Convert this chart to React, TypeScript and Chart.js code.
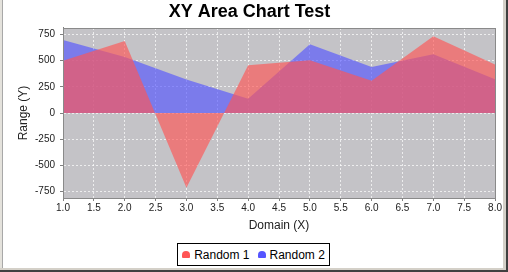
import React, { useEffect, useRef } from "react";
import { Chart, registerables } from "chart.js";

Chart.register(...registerables);

const titleText = "XY Area Chart Test";
const xAxisTitle = "Domain (X)";
const yAxisTitle = "Range (Y)";
const seriesNames = ["Random 1", "Random 2"];
const xValues = [1, 2, 3, 4, 5, 6, 7, 8];
const random1 = [500, 687, -713, 456, 504, 307, 732, 463];
const random2 = [697, 535, 320, 136, 656, 440, 561, 323];
const xTicks = [1, 1.5, 2, 2.5, 3, 3.5, 4, 4.5, 5, 5.5, 6, 6.5, 7, 7.5, 8];
const yTicks = [-750, -500, -250, 0, 250, 500, 750];
const seriesColors = ["rgba(255,85,85,0.65)", "rgba(85,85,255,0.65)"];
const legendColors = ["rgb(255,85,85)", "rgb(85,85,255)"];

const FONT = "'Liberation Sans', Arial, Helvetica, sans-serif";

const outlinePlugin = {
  id: "plotOutline",
  beforeDraw(chart: any) {
    const { ctx, chartArea } = chart;
    ctx.save();
    ctx.fillStyle = "#c4c3c7";
    ctx.fillRect(chartArea.left, chartArea.top, chartArea.right - chartArea.left, chartArea.bottom - chartArea.top);
    ctx.restore();
  },
  afterDraw(chart: any) {
    const { ctx, chartArea } = chart;
    ctx.save();
    ctx.strokeStyle = "#8a8a8a";
    ctx.lineWidth = 1;
    ctx.strokeRect(
      Math.round(chartArea.left) + 0.5,
      Math.round(chartArea.top) + 0.5,
      Math.round(chartArea.right - chartArea.left),
      Math.round(chartArea.bottom - chartArea.top)
    );
    ctx.restore();
  },
};

export default function App() {
  const ref = useRef<HTMLCanvasElement | null>(null);

  useEffect(() => {
    if (!ref.current) return;
    const datasets = [random1, random2].map((vals, i) => ({
      label: seriesNames[i],
      data: xValues.map((x, j) => ({ x, y: vals[j] })),
      backgroundColor: seriesColors[i],
      borderColor: "rgba(0,0,0,0)",
      borderWidth: 0,
      pointRadius: 0,
      pointHoverRadius: 0,
      tension: 0,
      fill: "origin",
    }));
    const chart = new Chart(ref.current, {
      type: "line",
      data: { datasets },
      plugins: [outlinePlugin],
      options: {
        animation: false,
        responsive: false,
        maintainAspectRatio: false,
        layout: { padding: { top: 0.4, right: 7, bottom: 0, left: 0 } },
        plugins: {
          legend: { display: false },
          tooltip: { enabled: false },
          title: {
            display: true,
            text: titleText,
            color: "#000",
            font: { family: FONT, size: 18, weight: "bold", lineHeight: 1.2 },
            padding: { top: 1, bottom: 5 },
          },
        },
        scales: {
          x: {
            type: "linear",
            min: 1,
            max: 8,
            afterBuildTicks: (scale: any) => {
              scale.ticks = xTicks.map((v) => ({ value: v }));
            },
            afterFit: (scale: any) => {
              scale.height = 70;
            },
            ticks: {
              color: "#222",
              font: { family: FONT, size: 10, lineHeight: 1.2 },
              padding: 1,
              maxRotation: 0,
              autoSkip: false,
              callback: (v: any) => Number(v).toFixed(1),
            },
            grid: {
              color: "rgba(255,255,255,0.7)",
              lineWidth: 1,
              tickColor: "#808080",
              tickLength: 3,
            },
            border: { color: "#808080", width: 1, dash: [2, 2] },
            title: {
              display: true,
              text: xAxisTitle,
              color: "#222",
              font: { family: FONT, size: 12, lineHeight: 1.2 },
              padding: { top: 0, bottom: 35.5 },
            },
          },
          y: {
            type: "linear",
            min: -812,
            max: 812,
            afterBuildTicks: (scale: any) => {
              scale.ticks = yTicks.map((v) => ({ value: v }));
            },
            afterFit: (scale: any) => {
              scale.width = 60;
            },
            ticks: {
              color: "#222",
              font: { family: FONT, size: 10, lineHeight: 1.2 },
              padding: 5,
              callback: (v: any) => String(v),
            },
            grid: {
              color: "rgba(255,255,255,0.7)",
              lineWidth: 1,
              tickColor: "#808080",
              tickLength: 3,
            },
            border: { color: "#808080", width: 1, dash: [2, 2] },
            title: {
              display: true,
              text: yAxisTitle,
              color: "#222",
              font: { family: FONT, size: 12, lineHeight: 1.2 },
              padding: { top: 13, bottom: 0 },
            },
          },
        },
      },
    });
    return () => chart.destroy();
  }, []);

  return (
    <div
      style={{
        position: "fixed",
        left: 0,
        top: 0,
        width: 508,
        height: 272,
        background: "#d4d0c8",
        overflow: "hidden",
      }}
    >
      <div style={{ position: "absolute", left: 0, top: 0, width: 2, height: 268, background: "#e4e2dc" }} />
      <div style={{ position: "absolute", left: 2, top: 0, width: 1, height: 268, background: "#a8a8a8" }} />
      <div style={{ position: "absolute", left: 3, top: 0, width: 500, height: 268, background: "#fff" }} />
      <div style={{ position: "absolute", left: 506, top: 0, width: 2, height: 272, background: "#404040" }} />
      <div style={{ position: "absolute", left: 0, top: 270, width: 508, height: 2, background: "#404040" }} />
      <canvas
        ref={ref}
        width={500}
        height={268}
        style={{ position: "absolute", left: 3, top: 0, width: 500, height: 268 }}
      />
      <div
        style={{
          position: "absolute",
          left: 177,
          top: 243,
          width: 151,
          height: 21,
          border: "1px solid #000",
          background: "#fff",
          display: "flex",
          alignItems: "center",
          justifyContent: "center",
          fontFamily: FONT,
          fontSize: 12,
          color: "#000",
          whiteSpace: "nowrap",
        }}
      >
        {seriesNames.map((name, i) => (
          <div key={name} style={{ display: "flex", alignItems: "center", marginLeft: i === 0 ? 0 : 8 }}>
            <span
              style={{
                display: "inline-block",
                width: 8,
                height: 7,
                borderRadius: "4px 4px 1px 1px",
                background: legendColors[i],
                marginRight: 4,
              }}
            />
            <span>{name}</span>
          </div>
        ))}
      </div>
    </div>
  );
}
